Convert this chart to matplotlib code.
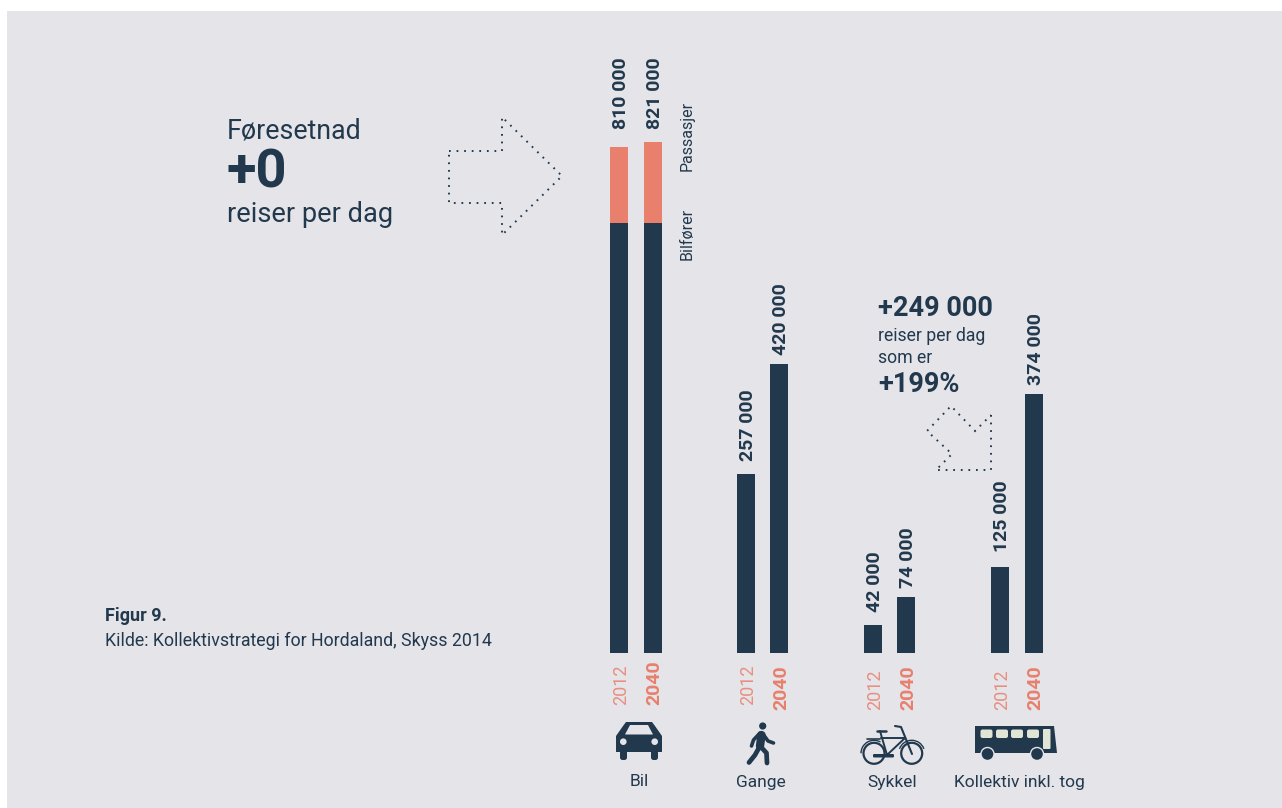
#!/usr/bin/env python3
"""Figur 9 - reiser per dag 2012/2040, Hordaland"""
import matplotlib
matplotlib.use('Agg')
import matplotlib.pyplot as plt
from matplotlib.patches import Polygon, Circle, Rectangle, FancyBboxPatch, Arc
import numpy as np

plt.rcParams['font.family'] = ['Roboto', 'DejaVu Sans']

C_BG = '#E4E4E9'
C_NAVY = '#22394D'
C_SALMON = '#E8806D'
C_CREAM = '#E0E5D5'

# data (tusen reiser, høgder lesne av figuren - bil er ikkje i skala i originalen)
modes = ['Bil', 'Gange', 'Sykkel', 'Kollektiv inkl. tog']
years = ['2012', '2040']
heights_2012 = [623, 258.5, 40, 124]
heights_2040 = [622, 418, 80.5, 374]
passengers_2012 = [109, 0, 0, 0]
passengers_2040 = [118, 0, 0, 0]
labels_2012 = ['810 000', '257 000', '42 000', '125 000']
labels_2040 = ['821 000', '420 000', '74 000', '374 000']

# avstand stolpe -> tal, i pikslar
gap_2012 = [18, 13, 13, 15]
gap_2040 = [13, 9, 9, 9]
# 2040-stolpen står ikkje heilt likt i alle gruppene
shift_2040 = [16.8, 16.2, 16.2, 16.8]

W, H = 1282, 808
BASE = 652.5
PX_PER_UNIT = 0.69

fig = plt.figure(figsize=(W / 100, H / 100), dpi=100, facecolor='white')

# bakgrunn og alt utanom stolpane, i pikslar
ax = fig.add_axes([0, 0, 1, 1])
ax.set_xlim(0, W)
ax.set_ylim(H, 0)
ax.axis('off')
ax.add_patch(Rectangle((7, 11), W - 7, H - 11, facecolor=C_BG, edgecolor='none'))

# stolpar
ax_b = fig.add_axes([0, (H - BASE) / H, 1, BASE / H])
ax_b.patch.set_alpha(0)
ax_b.axis('off')
ax_b.set_xlim(-636 / 127, (W - 636) / 127)
ax_b.set_ylim(0, BASE / PX_PER_UNIT)
x = np.arange(len(modes))
bw = 18 / 127
x12 = x - 16.8 / 127
x40 = x + np.array(shift_2040) / 127
ax_b.bar(x12, heights_2012, bw, color=C_NAVY)
ax_b.bar(x40, heights_2040, bw, color=C_NAVY)
ax_b.bar(x12, passengers_2012, bw, bottom=heights_2012, color=C_SALMON)
ax_b.bar(x40, passengers_2040, bw, bottom=heights_2040, color=C_SALMON)


def to_px(v):
    return 636 + 127 * v


def val_label(xv, top, s, gap):
    ax_b.annotate(s, xy=(xv, top), xytext=(1.5, gap * 0.72), textcoords='offset points',
                  rotation=90, ha='center', va='bottom', fontsize=14,
                  fontweight='bold', color=C_NAVY)


for i in x:
    top12 = heights_2012[i] + passengers_2012[i]
    top40 = heights_2040[i] + passengers_2040[i]
    val_label(x12[i], top12, labels_2012[i], gap_2012[i])
    val_label(x40[i], top40, labels_2040[i], gap_2040[i])
    y12 = 705 if i == 0 or i == 1 else 710
    y40 = 705 if i == 0 else 710
    ax.text(to_px(x12[i]) + 2, y12, years[0], rotation=90, ha='center', va='bottom',
            fontsize=13, color=C_SALMON, alpha=0.85)
    ax.text(to_px(x40[i]) + 2, y40, years[1], rotation=90, ha='center', va='bottom',
            fontsize=14, fontweight='bold', color=C_SALMON)

# kategori-namn
for cx, name in zip([639, 760.5, 892, 1019.5], modes):
    ax.text(cx, 782, name, ha='center', va='center', fontsize=12.5, color=C_NAVY)

# bilfører / passasjer
ax.text(687, 260, 'Bilfører', rotation=90, ha='center', va='bottom', fontsize=11.5, color=C_NAVY)
ax.text(687, 171, 'Passasjer', rotation=90, ha='center', va='bottom', fontsize=11.5, color=C_NAVY)

# tekst venstre
ax.text(227, 131, 'Føresetnad', ha='left', va='center', fontsize=19.3, color=C_NAVY)
ax.text(227, 173, '+0', ha='left', va='center', fontsize=39, fontweight='bold', color=C_NAVY)
ax.text(227, 214, 'reiser per dag', ha='left', va='center', fontsize=19.6, color=C_NAVY)
ax.text(105, 616, 'Figur 9.', ha='left', va='center', fontsize=13, fontweight='bold', color=C_NAVY)
ax.text(105, 641, 'Kilde: Kollektivstrategi for Hordaland, Skyss 2014', ha='left', va='center',
        fontsize=12.8, color=C_NAVY)

# tekst høgre
ax.text(878, 308, '+249 000', ha='left', va='center', fontsize=19.5, fontweight='bold', color=C_NAVY)
ax.text(878, 336, 'reiser per dag', ha='left', va='center', fontsize=12.7, color=C_NAVY)
ax.text(878, 358, 'som er', ha='left', va='center', fontsize=12.7, color=C_NAVY)
ax.text(878, 385, '+199%', ha='left', va='center', fontsize=19.5, fontweight='bold', color=C_NAVY)

# prikka piler
big_arrow = [(449, 151), (502, 151), (502, 117), (562, 176), (502, 235), (502, 203), (449, 203)]
small_arrow = [(991, 415), (991, 470), (936, 470), (952, 454), (927, 431), (951, 406), (975, 431)]
for pts in (big_arrow, small_arrow):
    ax.add_patch(Polygon(pts, closed=True, fill=False, edgecolor=C_NAVY, lw=1.4,
                         linestyle=(0, (0.9, 3.0))))


# ikon
def rbox(x0, y0, w, h, r, color):
    ax.add_patch(FancyBboxPatch((x0 + r, y0 + r), w - 2 * r, h - 2 * r,
                                boxstyle=f'round,pad={r},rounding_size={r}',
                                facecolor=color, edgecolor='none'))


def line(pts, lw, color=C_NAVY):
    xs, ys = zip(*pts)
    ax.plot(xs, ys, color=color, lw=lw, solid_capstyle='round', solid_joinstyle='round')


def icon_car():
    ax.add_patch(Polygon([(616, 736), (623, 726), (626, 722), (652, 722), (655, 726), (662, 736),
                          (662, 752), (616, 752)], closed=True, facecolor=C_NAVY, edgecolor='none'))
    ax.add_patch(Polygon([(625, 734.5), (653, 734.5), (648, 725), (630, 725)], closed=True,
                         facecolor=C_BG, edgecolor='none'))
    for cx in (623.3, 654.7):
        ax.add_patch(Circle((cx, 741.7), 3.3, facecolor=C_BG, edgecolor='none'))
    for x0 in (620, 651):
        rbox(x0, 750, 7, 10, 2.5, C_NAVY)


def icon_walker():
    ax.add_patch(Circle((762.7, 726), 3.6, facecolor=C_NAVY, edgecolor='none'))
    line([(761.5, 735), (760, 746)], 6)
    line([(760, 733), (753.5, 740), (751.5, 746)], 2.6)
    line([(763, 734), (768, 741), (773.5, 743)], 2.6)
    line([(760, 746), (755, 755), (749, 762.5)], 3.4)
    line([(761, 747), (766.5, 753), (767, 763)], 3.4)


def icon_bike():
    for cx in (874, 911.7):
        ax.add_patch(Circle((cx, 753.3), 10.5, fill=False, edgecolor=C_NAVY, lw=1.6))
    ax.add_patch(Arc((874, 753.3), 26, 26, theta1=180, theta2=300, edgecolor=C_NAVY, lw=1))
    ax.add_patch(Arc((911.7, 753.3), 26, 26, theta1=200, theta2=340, edgecolor=C_NAVY, lw=1))
    line([(881, 738), (905, 738), (887, 755), (880, 731)], 1.4)
    line([(895, 726), (901, 727), (912, 754)], 1.5)
    line([(877, 731), (886, 731)], 1.8)
    line([(867, 739), (880, 739)], 1.2)
    rbox(873, 754, 21, 3.5, 1.2, C_NAVY)


def icon_bus():
    ax.add_patch(Polygon([(975, 726), (1054, 726), (1057, 753), (975, 753)], closed=True,
                         facecolor=C_NAVY, edgecolor='none'))
    for x0 in (980.5, 996, 1011, 1027):
        rbox(x0, 729.5, 12, 8.5, 2, C_CREAM)
    rbox(1043, 729, 7.5, 20, 1, C_CREAM)
    for cx in (987.5, 1037):
        ax.add_patch(Circle((cx, 754), 6.5, facecolor=C_NAVY, edgecolor=C_BG, lw=1))


icon_car()
icon_walker()
icon_bike()
icon_bus()

fig.savefig('out.png', dpi=100, facecolor='white')
